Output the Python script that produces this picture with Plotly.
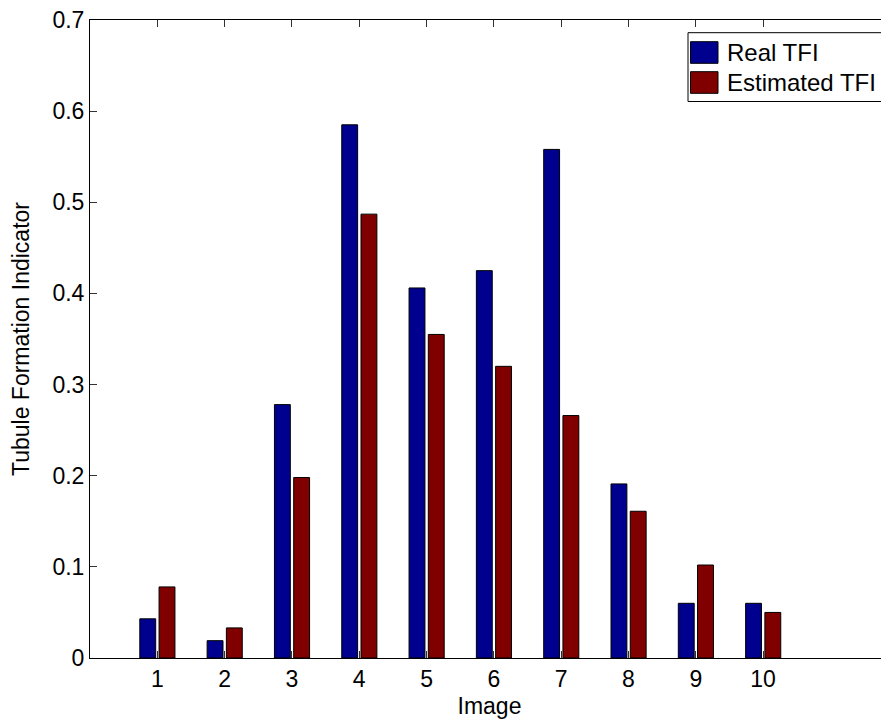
import plotly.graph_objects as go

images = [1, 2, 3, 4, 5, 6, 7, 8, 9, 10]
real_tfi = [0.043, 0.019, 0.278, 0.585, 0.406, 0.425, 0.558, 0.191, 0.060, 0.060]
est_tfi = [0.078, 0.033, 0.198, 0.487, 0.355, 0.320, 0.266, 0.161, 0.102, 0.050]
series_names = ["Real TFI", "Estimated TFI"]
series_colors = ["#00008F", "#800000"]
y_ticks = [0, 0.1, 0.2, 0.3, 0.4, 0.5, 0.6, 0.7]

FONT = "Liberation Sans, Arial, Helvetica, sans-serif"
OFF = 8  # default page body margin
W, H = 889 - OFF, 721 - OFF
ML, MR, MT, MB = 90 - OFF, 0, 20 - OFF, 63
PW, PH = W - ML - MR, H - MT - MB
PLOT_LEFT_PAGE = 90
PLOT_BOTTOM_PAGE = 658

fig = go.Figure()
fig.add_trace(go.Bar(x=images, y=real_tfi, name=series_names[0],
                     marker=dict(color=series_colors[0], line=dict(color="black", width=1)),
                     width=0.236, offset=-0.26, showlegend=False))
fig.add_trace(go.Bar(x=images, y=est_tfi, name=series_names[1],
                     marker=dict(color=series_colors[1], line=dict(color="black", width=1)),
                     width=0.236, offset=0.026, showlegend=False))

def px2paper(px, py):
    return (px - PLOT_LEFT_PAGE) / PW, (PLOT_BOTTOM_PAGE - py) / PH

shapes = []
annotations = []
x0, y0 = px2paper(688, 101.5)
x1, y1 = px2paper(887, 32.7)
shapes.append(dict(type="rect", xref="paper", yref="paper", x0=x0, y0=y0, x1=x1, y1=y1,
                   line=dict(color="black", width=1), fillcolor="white", layer="above"))
for i, (nm, col) in enumerate(zip(series_names, series_colors)):
    top = 41.7 + i * 30
    bot = top + 21.6
    a0, b0 = px2paper(690.5, bot)
    a1, b1 = px2paper(718, top)
    shapes.append(dict(type="rect", xref="paper", yref="paper", x0=a0, y0=b0, x1=a1, y1=b1,
                       line=dict(color="black", width=1), fillcolor=col, layer="above"))
    tx, ty = px2paper(725, (top + bot) / 2)
    annotations.append(dict(xref="paper", yref="paper", x=tx, y=ty, text=nm, showarrow=False,
                            xanchor="left", yanchor="middle",
                            font=dict(family=FONT, size=24, color="black")))

fig.update_layout(
    width=W, height=H,
    margin=dict(l=ML, r=MR, t=MT, b=MB, pad=0),
    paper_bgcolor="white", plot_bgcolor="white",
    font=dict(family=FONT, size=23, color="black"),
    shapes=shapes, annotations=annotations,
    showlegend=False,
)
fig.update_xaxes(
    range=[0, 11.87], tickmode="array", tickvals=images, ticktext=[str(v) for v in images],
    ticks="inside", ticklen=7, tickcolor="#333", tickwidth=1,
    showline=True, linecolor="black", linewidth=1, mirror="ticks",
    showgrid=False, zeroline=False,
    tickfont=dict(family=FONT, size=23),
    title=dict(text="Image", standoff=7, font=dict(family=FONT, size=23)),
    automargin=False,
)
fig.update_yaxes(
    range=[0, 0.7], tickmode="array", tickvals=y_ticks, ticktext=[("0" if v == 0 else f"{v:.1f}") for v in y_ticks],
    ticks="inside", ticklen=7, tickcolor="#333", tickwidth=1,
    showline=True, linecolor="black", linewidth=1, mirror=False,
    showgrid=False, zeroline=False,
    tickfont=dict(family=FONT, size=23),
    ticklabeloverflow="allow",
    title=dict(text="Tubule Formation Indicator", standoff=16, font=dict(family=FONT, size=23)),
    automargin=False,
)

fig.write_html("out.html")
